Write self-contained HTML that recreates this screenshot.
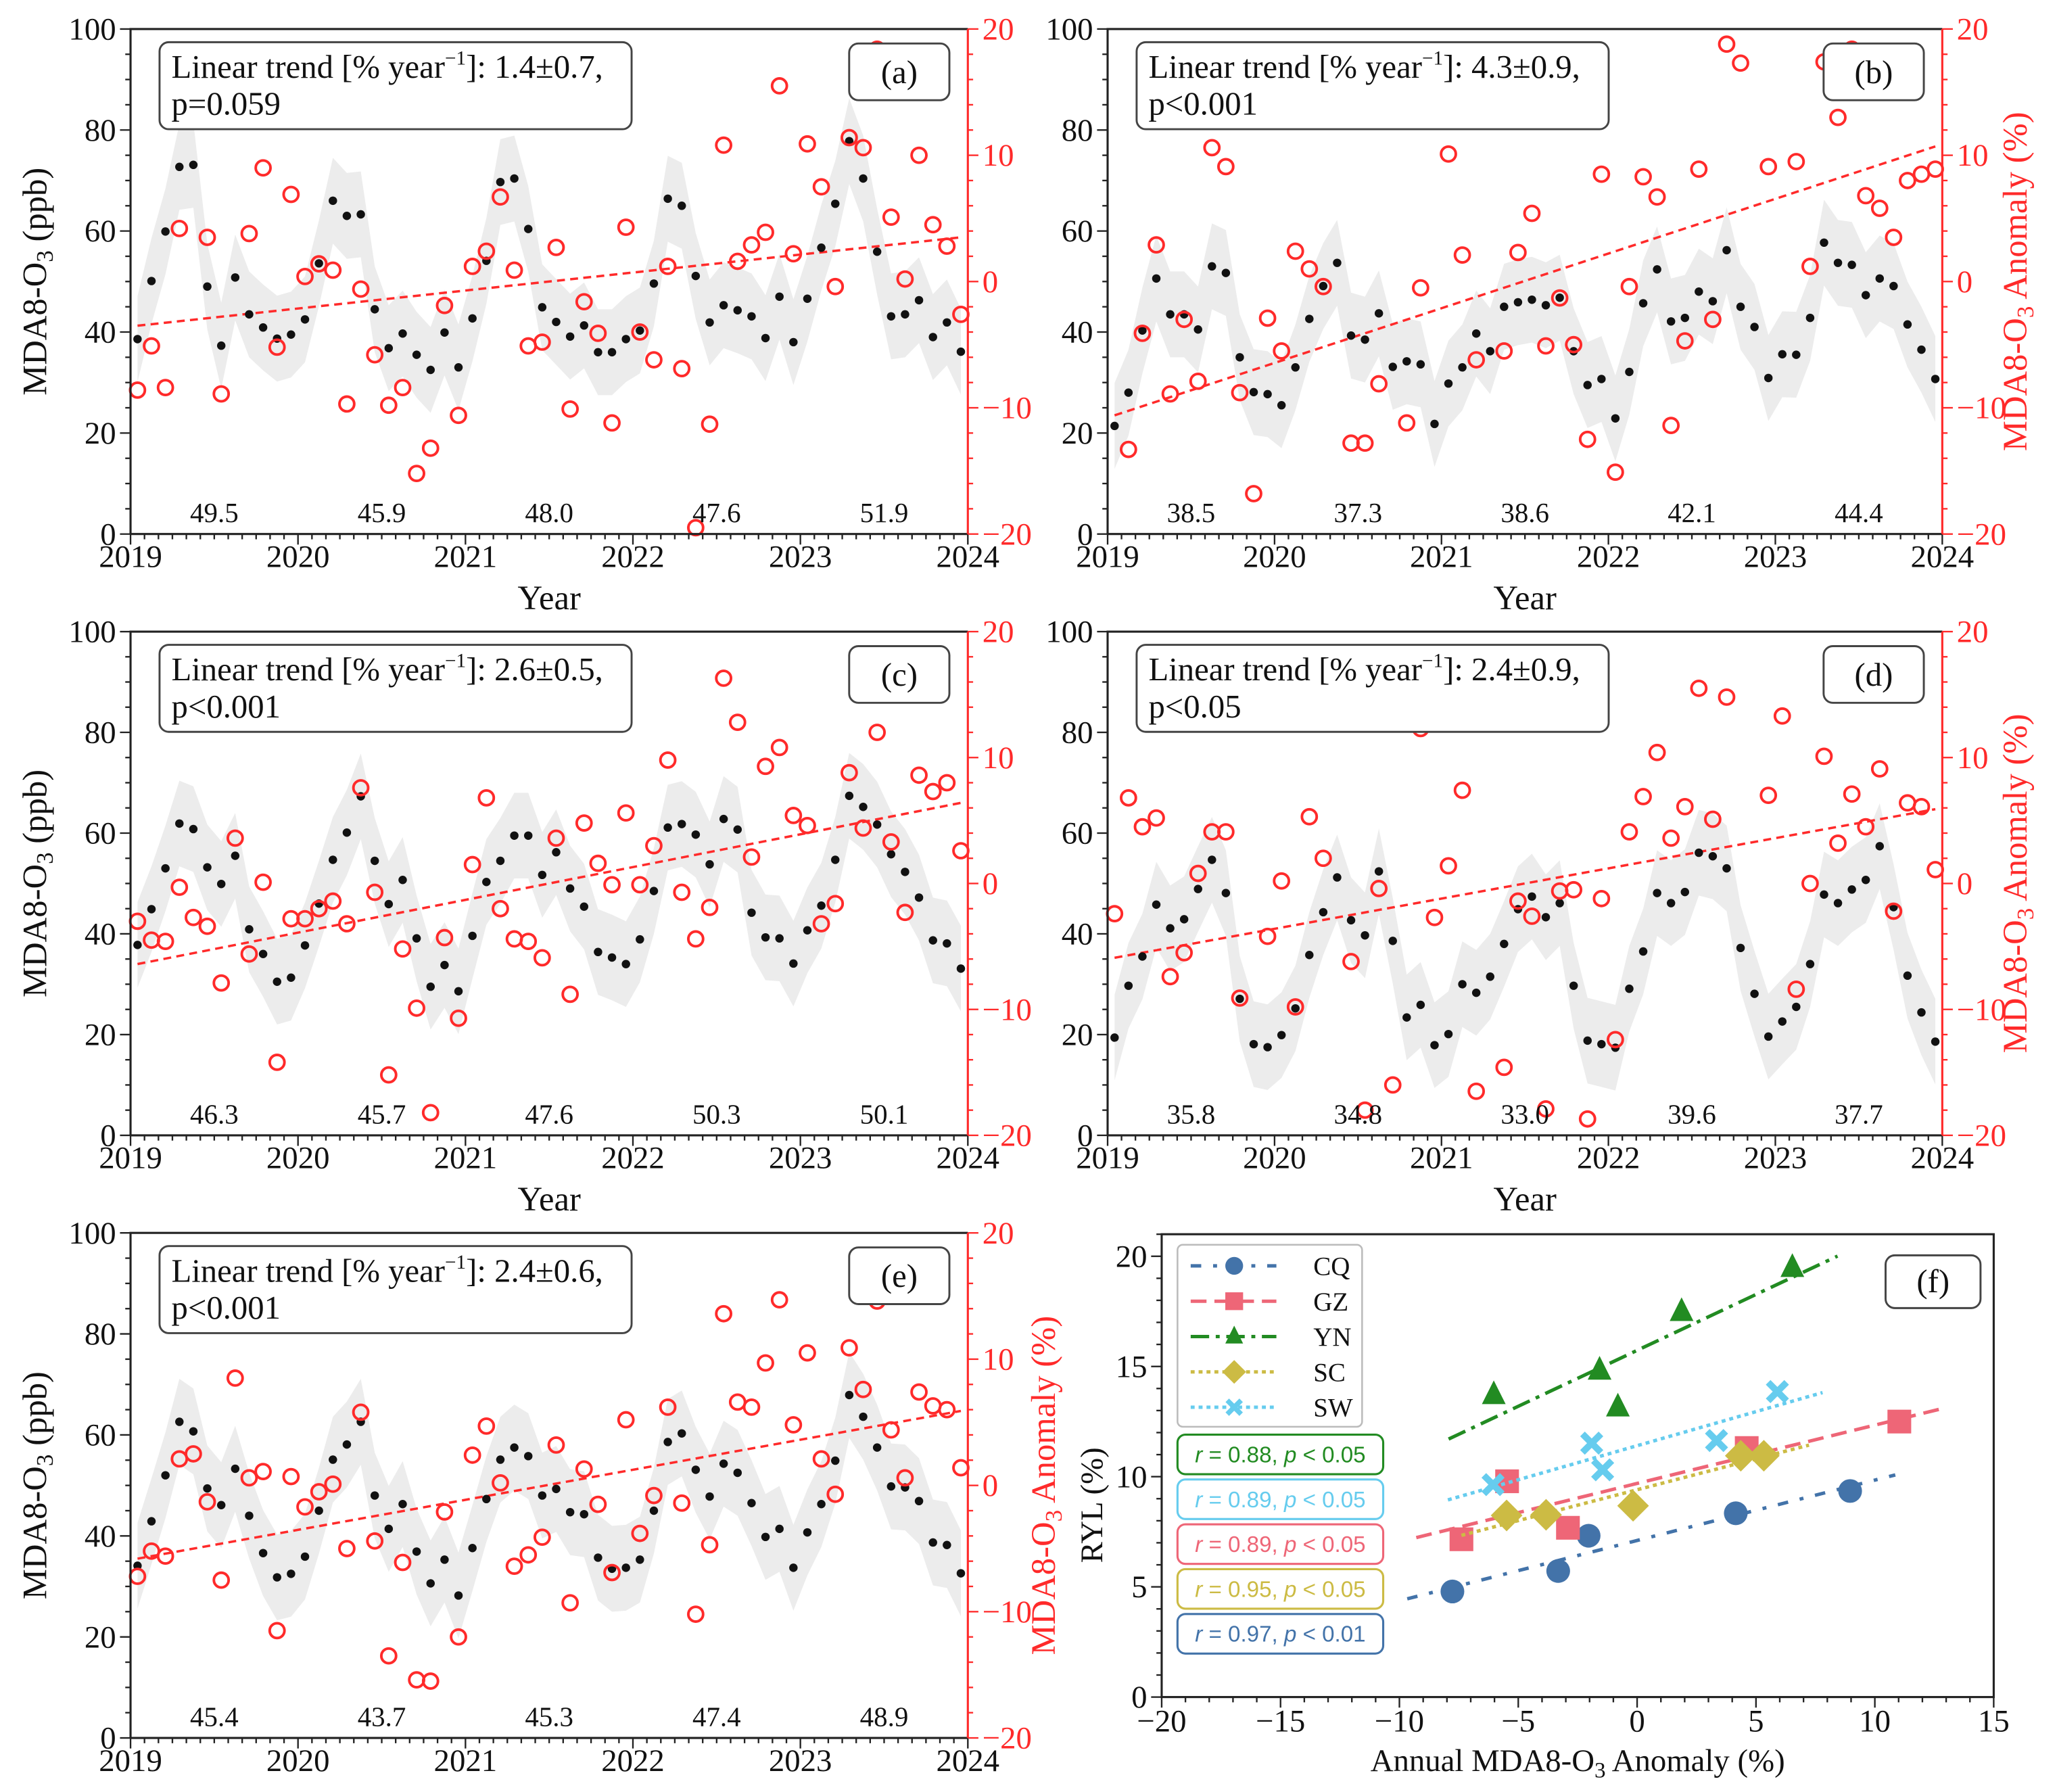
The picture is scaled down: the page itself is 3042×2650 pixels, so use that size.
<!DOCTYPE html>
<html><head><meta charset="utf-8"><title>MDA8-O3 panels</title>
<style>
html,body{margin:0;padding:0;background:#fff;}
svg{display:block;font-family:"Liberation Serif",serif;}
</style></head>
<body>
<svg id="fig" xmlns="http://www.w3.org/2000/svg" width="3042" height="2650" viewBox="0 0 1560 1359" preserveAspectRatio="none" font-family="Liberation Serif, serif"></svg>
<script>
// ---------- DATA ----------
const months = 60;
const dotsA = [38.6,50.1,59.9,72.7,73.1,49.0,37.3,50.8,43.5,40.9,38.7,39.5,42.5,53.6,66.0,63.0,63.3,44.5,36.8,39.7,35.5,32.5,39.9,33.0,42.7,54.1,69.7,70.4,60.4,44.9,42.0,39.1,41.3,36.0,36.0,38.6,40.3,49.6,66.4,65.0,51.1,41.9,45.3,44.3,43.1,38.8,47.0,38.0,46.6,56.7,65.4,77.8,70.4,55.9,43.1,43.5,46.3,39.0,41.9,36.1];
const anomA = [-8.6,-5.1,-8.4,4.2,14.9,3.5,-8.9,16.2,3.8,9.0,-5.2,6.9,0.4,1.4,0.9,-9.7,-0.6,-5.8,-9.8,-8.4,-15.2,-13.2,-1.9,-10.6,1.2,2.4,6.7,0.9,-5.1,-4.8,2.7,-10.1,-1.6,-4.1,-11.2,4.3,-4.0,-6.2,1.2,-6.9,-19.5,-11.3,10.8,1.6,2.9,3.9,15.5,2.2,10.9,7.5,-0.4,11.4,10.6,18.4,5.1,0.2,10.0,4.5,2.8,-2.6];
const annualA = ["49.5","45.9","48.0","47.6","51.9"];
const trendA = [-3.5,3.5];

const dotsB = [21.4,28.0,40.3,50.6,43.5,43.5,40.5,53.0,51.7,35.0,28.1,27.7,25.5,33.0,42.6,49.1,53.7,39.3,38.5,43.7,33.1,34.2,33.6,21.8,29.8,33.0,39.7,36.2,45.0,45.9,46.4,45.3,46.8,36.2,29.5,30.7,22.9,32.1,45.7,52.4,42.1,42.8,48.0,46.1,56.2,45.0,41.0,30.9,35.6,35.5,42.8,57.7,53.7,53.3,47.3,50.6,49.1,41.5,36.5,30.7];
const anomB = [null,-13.3,-4.1,2.9,-8.9,-3.0,-7.9,10.6,9.1,-8.8,-16.8,-2.9,-5.5,2.4,1.0,-0.4,13.0,-12.8,-12.8,-8.1,null,-11.2,-0.5,null,10.1,2.1,-6.2,null,-5.5,2.3,5.4,-5.1,-1.3,-5.0,-12.5,8.5,-15.1,-0.4,8.3,6.7,-11.4,-4.7,8.9,-3.0,18.8,17.3,null,9.1,null,9.5,1.2,17.4,13.0,18.4,6.8,5.8,3.5,8.0,8.5,8.9];
const annualB = ["38.5","37.3","38.6","42.1","44.4"];
const trendB = [-10.6,10.7];

const dotsC = [37.8,44.9,53.0,61.9,60.8,53.2,49.9,55.5,40.9,36.0,30.5,31.3,37.7,46.0,54.7,60.1,67.3,54.5,45.9,50.7,39.1,29.5,33.8,28.6,39.6,50.3,54.5,59.5,59.5,51.7,56.2,49.0,45.4,36.4,35.3,34.0,38.9,48.5,61.1,61.8,59.7,53.8,62.8,60.7,44.2,39.3,39.1,34.1,40.7,45.6,54.7,67.4,65.2,61.7,55.8,52.3,47.2,38.7,38.1,33.1];
const anomC = [-3.0,-4.5,-4.6,-0.3,-2.7,-3.4,-7.9,3.6,-5.6,0.1,-14.2,-2.8,-2.8,-2.0,-1.4,-3.2,7.6,-0.7,-15.2,-5.2,-9.9,-18.2,-4.3,-10.7,1.5,6.8,-2.0,-4.4,-4.6,-5.9,3.6,-8.8,4.8,1.6,-0.1,5.6,-0.1,3.0,9.8,-0.7,-4.4,-1.9,16.3,12.8,2.1,9.3,10.8,5.4,4.6,-3.2,-1.6,8.8,4.4,12.0,3.3,-2.3,8.6,7.3,8.0,2.6];
const annualC = ["46.3","45.7","47.6","50.3","50.1"];
const trendC = [-6.4,6.4];

const dotsD = [19.4,29.7,35.5,45.8,41.1,42.9,48.9,54.7,48.1,27.1,18.1,17.5,19.9,25.2,35.8,44.3,51.2,42.7,39.7,52.4,38.6,23.4,25.9,17.9,20.1,30.0,28.3,31.5,38.0,44.9,47.4,43.3,46.1,29.7,18.8,18.1,17.4,29.1,36.5,48.1,46.1,48.3,56.1,55.4,53.0,37.2,28.1,19.6,22.6,25.5,34.0,47.8,46.1,48.8,50.7,57.4,45.3,31.7,24.4,18.6];
const anomD = [-2.4,6.8,4.5,5.2,-7.4,-5.5,0.8,4.1,4.1,-9.1,null,-4.2,0.2,-9.8,5.3,2.0,15.2,-6.2,-18.0,-0.4,-16.0,null,12.3,-2.7,1.4,7.4,-16.5,null,-14.6,-1.4,-2.6,-17.9,-0.6,-0.5,-18.7,-1.2,-12.4,4.1,6.9,10.4,3.6,6.1,15.5,5.1,14.8,null,null,7.0,13.3,-8.4,0.0,10.1,3.2,7.1,4.5,9.1,-2.2,6.4,6.1,1.1];
const annualD = ["35.8","34.8","33.0","39.6","37.7"];
const trendD = [-5.9,5.9];

const dotsE = [34.1,42.9,52.0,62.6,60.7,49.4,46.1,53.3,44.0,36.6,31.8,32.5,35.9,45.0,55.1,58.1,62.6,48.0,41.4,46.3,36.9,30.6,35.3,28.2,37.6,47.3,55.1,57.5,55.8,48.0,49.3,44.7,44.3,35.7,33.5,33.7,35.3,45.0,58.6,60.3,53.1,47.8,54.3,52.5,46.5,39.8,41.4,33.7,40.7,46.3,54.9,67.9,63.6,57.5,49.8,49.6,46.9,38.7,38.2,32.6];
const anomE = [-7.2,-5.2,-5.6,2.1,2.5,-1.3,-7.5,8.5,0.6,1.1,-11.5,0.7,-1.7,-0.5,0.1,-5.0,5.8,-4.4,-13.5,-6.1,-15.4,-15.5,-2.1,-12.0,2.4,4.7,0.2,-6.4,-5.5,-4.1,3.2,-9.3,1.3,-1.5,-6.9,5.2,-3.8,-0.8,6.2,-1.4,-10.2,-4.7,13.6,6.6,6.2,9.7,14.7,4.8,10.5,2.1,-0.7,10.9,7.6,14.6,4.4,0.6,7.4,6.3,6.0,1.4];
const annualE = ["45.4","43.7","45.3","47.4","48.9"];
const trendE = [-5.8,5.9];

const bandHalf = 8.5;
const yearTicks = [2019,2020,2021,2022,2023,2024];
const leftTicks = [0,20,40,60,80,100];
const rightTicks = [-20,-10,0,10,20];

// Panel (f)
const cqX = [-7.77,-3.32,-2.04,4.15,8.96];
const cqY = [4.79,5.72,7.32,8.34,9.35];
const gzX = [-7.39,-5.47,-2.91,4.61,11.03];
const gzY = [7.16,9.79,7.68,11.3,12.5];
const ynX = [-6.03,-1.58,-0.81,1.87,6.53];
const ynY = [13.71,14.82,13.15,17.48,19.48];
const scX = [-5.49,-3.83,-0.17,4.36,5.33];
const scY = [8.24,8.27,8.68,10.95,10.95];
const swX = [-6.06,-1.91,-1.45,3.34,5.9];
const swY = [9.64,11.52,10.31,11.64,13.86];
const fXTicks = [-20,-15,-10,-5,0,5,10,15];
const fYTicks = [0,5,10,15,20];
const rLabels = ["0.88","0.89","0.89","0.95","0.97"];
const pLabels = ["0.05","0.05","0.05","0.05","0.01"];

// ---------- DRAWING ----------
const NS = "http://www.w3.org/2000/svg";
const svg = document.getElementById('fig');
const SERIF = 'Liberation Serif, serif';
function mk(tag, attrs, parent){
  const e = document.createElementNS(NS, tag);
  if (tag==='text' && !attrs['font-family']) e.setAttribute('font-family', SERIF);
  for (const k in attrs) e.setAttribute(k, attrs[k]);
  (parent||svg).appendChild(e);
  return e;
}
const RED = "#ff2a2a";

function drawPanel(p){
  const g = mk('g', {});
  
  
  const L=p.L,R=p.R,T=p.T,B=p.B;
  const xs = t => L + (t-2019)/5*(R-L);
  const xm = i => xs(2019 + (i+0.5)/12);
  const yl = v => B - v/100*(B-T);
  const yr = a => B - (a+20)/40*(B-T);
  let up=[],lo=[];
  for (let i=0;i<p.dots.length;i++){ up.push(xm(i)+','+yl(p.dots[i]+bandHalf)); lo.unshift(xm(i)+','+yl(Math.max(0,p.dots[i]-bandHalf))); }
  const band = mk('polygon',{points:up.concat(lo).join(' '),fill:'#ececec',stroke:'none'},g);
  
  
  const tr = mk('line',{x1:xm(0),y1:yr(p.trend[0]),x2:xm(months-1),y2:yr(p.trend[1]),stroke:RED,'stroke-width':1.8,'stroke-dasharray':'6,4'},g);
  
  
  for (let i=0;i<p.dots.length;i++){
    const c = mk('circle',{cx:xm(i),cy:yl(p.dots[i]),r:3.2,fill:'#111'},g);
    
    
  }
  for (let i=0;i<p.anom.length;i++){
    if (p.anom[i]===null) continue;
    const c = mk('circle',{cx:xm(i),cy:yr(p.anom[i]),r:5.6,fill:'none',stroke:RED,'stroke-width':2},g);
    
    
  }
  const fr = mk('path',{d:`M${L},${B}V${T}H${R}`,fill:'none',stroke:'#222','stroke-width':1.6},g);
  
  
  const xa = mk('line',{x1:L,y1:B,x2:R,y2:B,stroke:'#222','stroke-width':1.6},g);
  
  
  const ra = mk('line',{x1:R,y1:T,x2:R,y2:B,stroke:RED,'stroke-width':1.6},g);
  
  
  for (let m=0;m<=60;m++){
    const x = xs(2019+m/12); const major = m%12===0;
    mk('line',{x1:x,y1:B,x2:x,y2:B+(major?8:4),stroke:'#222','stroke-width':1.2},g);
  }
  yearTicks.forEach(yv=>{
    const t = mk('text',{x:xs(yv),y:B+25,'text-anchor':'middle','font-size':24,fill:'#111'},g);
    t.textContent = yv;
    
    
  });
  if (p.xTitle){
    const xl = mk('text',{x:(L+R)/2,y:B+57,'text-anchor':'middle','font-size':26,fill:'#111'},g);
    xl.textContent = 'Year';
    
    
  }
  for (let v=0; v<=100; v+=5){
    mk('line',{x1:L,y1:yl(v),x2:L-(v%20===0?8:4),y2:yl(v),stroke:'#222','stroke-width':1.2},g);
  }
  leftTicks.forEach(v=>{
    const t = mk('text',{x:L-11,y:yl(v)+8,'text-anchor':'end','font-size':24,fill:'#111'},g);
    t.textContent = v;
    
    
  });
  if (p.leftTitle){
    const yt = mk('text',{transform:`translate(${L-64},${(T+B)/2}) rotate(-90)`,'text-anchor':'middle','font-size':26,fill:'#111'},g);
    yt.innerHTML = 'MDA8-O<tspan font-size="18" dy="5">3</tspan><tspan dy="-5"> (ppb)</tspan>';
    
    
  }
  for (let a=-20; a<=20; a+=2){
    mk('line',{x1:R,y1:yr(a),x2:R+(a%10===0?8:4),y2:yr(a),stroke:RED,'stroke-width':1.2},g);
  }
  rightTicks.forEach(a=>{
    const t = mk('text',{x:R+11,y:yr(a)+8,'text-anchor':'start','font-size':24,fill:RED},g);
    t.textContent = a<0 ? '\u2212'+(-a) : a;
    
    
  });
  if (p.rightTitle){
    const rt = mk('text',{transform:`translate(${R+p.rightTitle},${(T+B)/2}) rotate(-90)`,'text-anchor':'middle','font-size':26,fill:RED},g);
    rt.innerHTML = 'MDA8-O<tspan font-size="18" dy="5">3</tspan><tspan dy="-5"> Anomaly (%)</tspan>';
    
    
  }
  p.annual.forEach((s,k)=>{
    const t = mk('text',{x:xs(2019.5+k),y:B-9,'text-anchor':'middle','font-size':21,fill:'#111'},g);
    t.textContent = s;
    
    
  });
  const bx = mk('rect',{x:L+22,y:T+10,width:358,height:66,rx:7,fill:'#fff',stroke:'#444','stroke-width':1.5},g);
  
  
  const t1 = mk('text',{x:L+31,y:T+37,'font-size':25,fill:'#111'},g);
  t1.innerHTML = 'Linear trend [% year<tspan font-size="15" dy="-10">\u22121</tspan><tspan dy="10">]: '+p.trendText+'</tspan>';
  
  
  const t2 = mk('text',{x:L+31,y:T+65,'font-size':25,fill:'#111'},g);
  t2.textContent = p.pText;
  
  
  const lb = mk('rect',{x:R-90,y:T+11,width:76,height:43,rx:7,fill:'#fff',stroke:'#444','stroke-width':1.5},g);
  
  
  const lt = mk('text',{x:R-52,y:T+41,'text-anchor':'middle','font-size':25,fill:'#111'},g);
  lt.textContent = '('+p.id+')';
  
  
}

drawPanel({id:'a',L:99,R:734,T:22,B:405,dots:dotsA,anom:anomA,annual:annualA,trend:trendA,trendText:'1.4\u00b10.7,',pText:'p=0.059',rightTitle:0,leftTitle:true,xTitle:true});
drawPanel({id:'b',L:840,R:1473,T:22,B:405,dots:dotsB,anom:anomB,annual:annualB,trend:trendB,trendText:'4.3\u00b10.9,',pText:'p<0.001',rightTitle:64,leftTitle:false,xTitle:true});
drawPanel({id:'c',L:99,R:734,T:479,B:861,dots:dotsC,anom:anomC,annual:annualC,trend:trendC,trendText:'2.6\u00b10.5,',pText:'p<0.001',rightTitle:0,leftTitle:true,xTitle:true});
drawPanel({id:'d',L:840,R:1473,T:479,B:861,dots:dotsD,anom:anomD,annual:annualD,trend:trendD,trendText:'2.4\u00b10.9,',pText:'p<0.05',rightTitle:64,leftTitle:false,xTitle:true});
drawPanel({id:'e',L:99,R:734,T:935,B:1318,dots:dotsE,anom:anomE,annual:annualE,trend:trendE,trendText:'2.4\u00b10.6,',pText:'p<0.001',rightTitle:66,leftTitle:true,xTitle:false});

// ---------- Panel (f) ----------
(function(){
  const L=881,R=1512,B=1287,T=936;
  const fx = v => L + (v+20)/35*(R-L);
  const fy = v => B - v/21*(B-T);
  const g = mk('g',{});
  
  
  const fr = mk('rect',{x:L,y:T,width:R-L,height:B-T,fill:'none',stroke:'#222','stroke-width':1.6},g);
  
  
  for (let v=-20; v<=15; v++) mk('line',{x1:fx(v),y1:B,x2:fx(v),y2:B+(v%5===0?8:4),stroke:'#222','stroke-width':1.2},g);
  for (let v=0; v<=21; v++) mk('line',{x1:L,y1:fy(v),x2:L-(v%5===0?8:4),y2:fy(v),stroke:'#222','stroke-width':1.2},g);
  fXTicks.forEach(v=>{
    const t = mk('text',{x:fx(v),y:B+26,'text-anchor':'middle','font-size':24,fill:'#111'},g);
    t.textContent = v<0?'\u2212'+(-v):v;
    
    
  });
  fYTicks.forEach(v=>{
    const t = mk('text',{x:L-11,y:fy(v)+8,'text-anchor':'end','font-size':24,fill:'#111'},g);
    t.textContent = v;
    
    
  });
  const xt = mk('text',{x:(L+R)/2,y:B+56,'text-anchor':'middle','font-size':24,fill:'#111'},g);
  xt.innerHTML = 'Annual MDA8-O<tspan font-size="17" dy="5">3</tspan><tspan dy="-5"> Anomaly (%)</tspan>';
  
  
  const yt = mk('text',{transform:`translate(${L-45},${(T+B)/2+30}) rotate(-90)`,'text-anchor':'middle','font-size':24,fill:'#111'},g);
  yt.textContent = 'RYL (%)';
  
  

  const series = [
    {n:'CQ',x:cqX,y:cqY,c:'#4373a9',dash:'8,9,3,9',m:'circle'},
    {n:'GZ',x:gzX,y:gzY,c:'#ee6677',dash:'12,6',m:'square'},
    {n:'YN',x:ynX,y:ynY,c:'#228b22',dash:'14,5,3,5',m:'tri'},
    {n:'SC',x:scX,y:scY,c:'#ccbb44',dash:'3,3',m:'diamond'},
    {n:'SW',x:swX,y:swY,c:'#66ccee',dash:'3,3',m:'x'}
  ];
  function marker(m,cx,cy,c,s,parent){
    let e;
    if (m==='circle') e = mk('circle',{cx:cx,cy:cy,r:9*s,fill:c},parent);
    else if (m==='square') e = mk('rect',{x:cx-9*s,y:cy-9*s,width:18*s,height:18*s,fill:c},parent);
    else if (m==='tri') e = mk('polygon',{points:`${cx},${cy-11*s} ${cx-9*s},${cy+7*s} ${cx+9*s},${cy+7*s}`,fill:c},parent);
    else if (m==='diamond') e = mk('polygon',{points:`${cx},${cy-12*s} ${cx+12*s},${cy} ${cx},${cy+12*s} ${cx-12*s},${cy}`,fill:c},parent);
    else e = mk('path',{d:`M${cx-7*s},${cy-7*s}L${cx+7*s},${cy+7*s}M${cx+7*s},${cy-7*s}L${cx-7*s},${cy+7*s}`,stroke:c,'stroke-width':5*s,fill:'none'},parent);
    return e;
  }
  series.forEach(s=>{
    const n=s.x.length; let mx=0,my=0; for(let i=0;i<n;i++){mx+=s.x[i];my+=s.y[i];} mx/=n; my/=n;
    let sxy=0,sxx=0; for(let i=0;i<n;i++){sxy+=(s.x[i]-mx)*(s.y[i]-my); sxx+=(s.x[i]-mx)**2;}
    const b=sxy/sxx, a=my-b*mx;
    const x0=Math.min(...s.x)-1.9, x1=Math.max(...s.x)+1.9;
    const ln = mk('line',{x1:fx(x0),y1:fy(a+b*x0),x2:fx(x1),y2:fy(a+b*x1),stroke:s.c,'stroke-width':2.6,'stroke-dasharray':s.dash},g);
    
    
    for (let i=0;i<n;i++){
      const e = marker(s.m,fx(s.x[i]),fy(s.y[i]),s.c,1,g);
      
      
    }
  });
  const lg = mk('rect',{x:893,y:944,width:140,height:138,rx:4,fill:'#fff',stroke:'#bbb','stroke-width':1.3},g);
  
  
  series.forEach((s,k)=>{
    const y = 960 + k*26.8;
    const le = mk('g',{},g);
    
    
    mk('line',{x1:903,y1:y,x2:968,y2:y,stroke:s.c,'stroke-width':2.6,'stroke-dasharray':s.dash},le);
    marker(s.m,936,y,s.c,0.75,le);
    const t = mk('text',{x:996,y:y+7,'font-size':20,fill:'#111'},le);
    t.textContent = s.n;
  });
  const rColors = ['#228b22','#66ccee','#ee6677','#ccbb44','#4373a9'];
  rLabels.forEach((r,k)=>{
    const y = 1088 + k*34;
    const rb = mk('rect',{x:893,y:y,width:156,height:30,rx:6,fill:'#fff',stroke:rColors[k],'stroke-width':1.6},g);
    
    
    const t = mk('text',{x:971,y:y+21,'text-anchor':'middle','font-size':17,fill:rColors[k],'font-family':'Liberation Sans, sans-serif'},g);
    t.innerHTML = '<tspan font-style="italic">r</tspan> = '+r+', <tspan font-style="italic">p</tspan> &lt; '+pLabels[k];
    
    
  });
  const fb = mk('rect',{x:1430,y:952,width:72,height:40,rx:7,fill:'#fff',stroke:'#444','stroke-width':1.5},g);
  
  
  const ft = mk('text',{x:1466,y:980,'text-anchor':'middle','font-size':25,fill:'#111'},g);
  ft.textContent = '(f)';
  
  
})();
</script>
</body></html>
